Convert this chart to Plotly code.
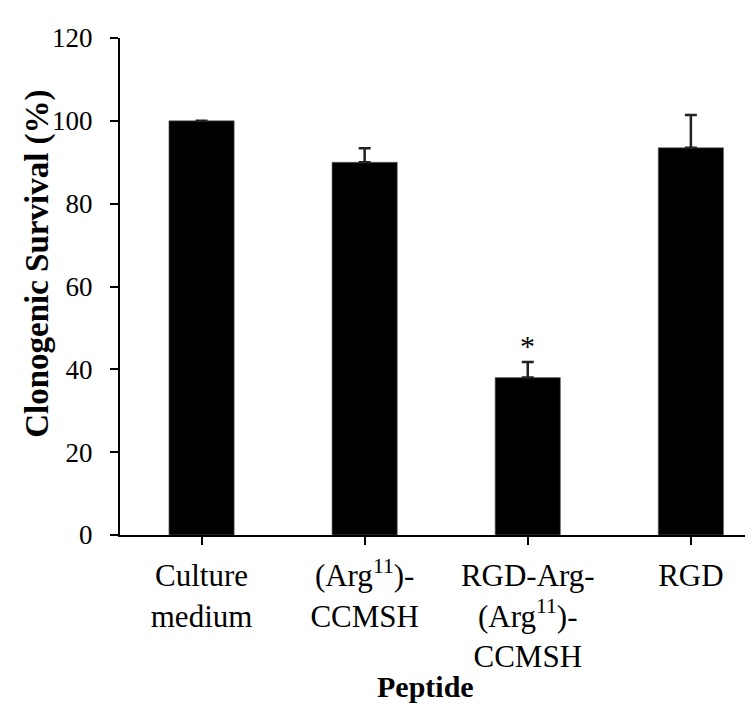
import plotly.graph_objects as go

categories = ["Culture<br>medium", "(Arg<sup>11</sup>)-<br>CCMSH",
              "RGD-Arg-<br>(Arg<sup>11</sup>)-<br>CCMSH", "RGD"]
survival = [100, 90, 38, 93.5]
err_plus = [None, 3.4, 3.8, 7.9]
significant = ["", "", "*", ""]
y_ticks = [0, 20, 40, 60, 80, 100, 120]
x_title = "Peptide"
y_title = "Clonogenic Survival (%)"

FONT = "Liberation Serif"
xs = list(range(len(categories)))

fig = go.Figure()
fig.add_trace(go.Bar(
    x=xs, y=survival, width=0.4,
    marker=dict(color="black", line=dict(color="#666", width=0.6)),
    error_y=dict(type="data", symmetric=False, array=err_plus,
                 arrayminus=[None] * len(xs), color="#222", thickness=2.5, width=6),
    showlegend=False,
))
for x, v, e, s in zip(xs, survival, err_plus, significant):
    if s:
        fig.add_annotation(x=x, y=v + (e or 0), text=s, showarrow=False, yanchor="bottom",
                           yshift=-2, font=dict(family=FONT, size=30, color="black"))

# axis titles as annotations
fig.add_annotation(xref="paper", yref="paper", x=-0.130, y=0.545, text=f"<b>{y_title}</b>",
                   textangle=-90, showarrow=False, xanchor="center", yanchor="middle",
                   font=dict(family=FONT, size=33, color="black"))
fig.add_annotation(xref="paper", yref="paper", x=0.477, y=-170 / 497, text=f"<b>{x_title}</b>",
                   showarrow=False, xanchor="center", yanchor="bottom",
                   font=dict(family=FONT, size=30, color="black"))

fig.update_layout(
    width=753, height=710,
    margin=dict(l=112, r=0, t=30, b=183),
    plot_bgcolor="white", paper_bgcolor="white",
    font=dict(family=FONT, color="black"),
)
fig.update_xaxes(
    range=[-0.5, 3.43], tickmode="array", tickvals=xs, ticktext=categories,
    tickson="boundaries", ticks="outside", ticklen=8, tickwidth=2, tickcolor="black",
    showline=True, linecolor="black", linewidth=2, showgrid=False,
    ticklabelstandoff=4,
    tickfont=dict(family=FONT, size=31, color="black"),
)
fig.update_yaxes(
    range=[0, 120], tickvals=y_ticks, ticks="outside", ticklen=8, tickwidth=2,
    tickcolor="black", showline=True, linecolor="black", linewidth=2,
    showgrid=False, zeroline=False, ticklabelstandoff=12,
    tickfont=dict(family=FONT, size=27, color="black"),
)
fig.write_html("out.html")
